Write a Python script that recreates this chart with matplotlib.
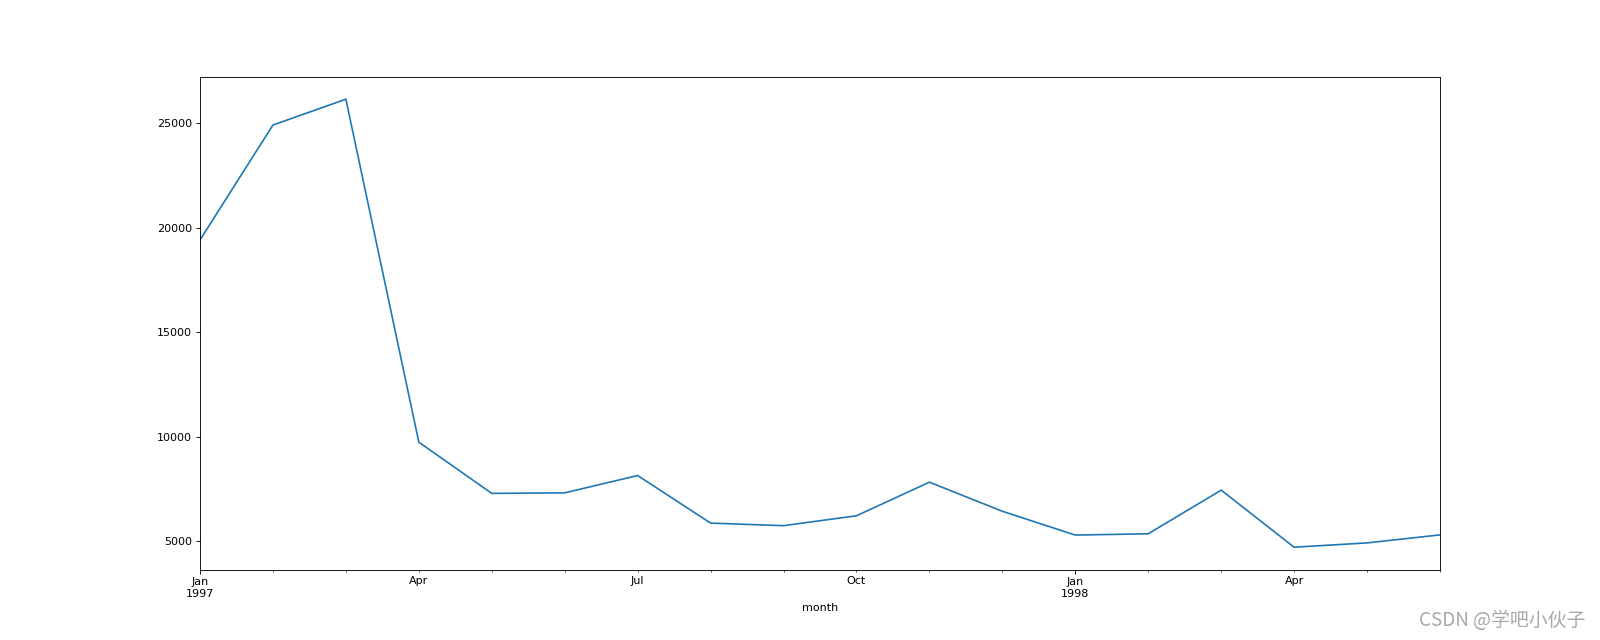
import pandas as pd
import matplotlib
matplotlib.use('Agg')
import matplotlib.pyplot as plt

# 每月购买的产品数量
months = pd.period_range('1997-01', '1998-06', freq='M', name='month')
products = [19416, 24921, 26159, 9729, 7275, 7301, 8131, 5851, 5729,
            6203, 7812, 6418, 5278, 5340, 7431, 4697, 4903, 5287]

s = pd.Series(products, index=months)

fig = plt.figure(figsize=(20, 8), dpi=80)
ax = fig.add_subplot(111)
s.plot(ax=ax)

# 水印
fig.text(0.991, 0.03, 'CSDN @学吧小伙子', ha='right', va='center', fontsize=17,
         color='#a8a8a8', family=['Noto Sans CJK SC', 'DejaVu Sans'])

fig.savefig('out.png', dpi=80)
